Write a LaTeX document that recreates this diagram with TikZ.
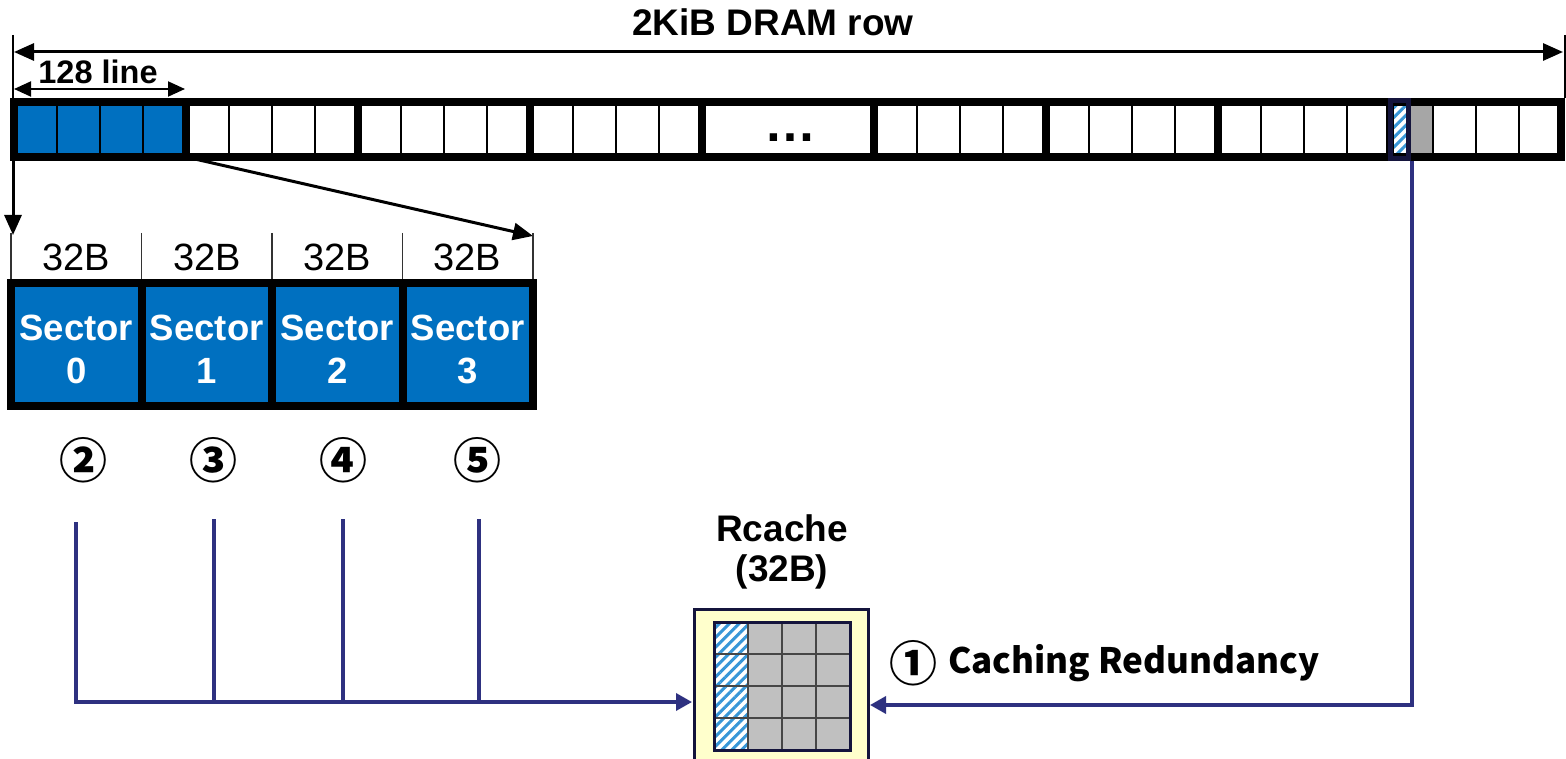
\documentclass[tikz,border=0pt]{standalone}
\usepackage{fontspec}
\setmainfont{Liberation Sans}
\newfontfamily\kr{Noto Sans CJK KR}
\usetikzlibrary{arrows.meta,patterns.meta}
\definecolor{sblue}{RGB}{0,112,192}
\definecolor{navy}{RGB}{46,49,128}
\definecolor{darknavy}{RGB}{20,20,60}
\definecolor{hatchblue}{RGB}{55,150,215}
\definecolor{rgray}{RGB}{192,192,192}
\definecolor{cellgray}{RGB}{166,166,166}
\definecolor{gridgray}{RGB}{70,70,70}
\definecolor{ryellow}{RGB}{255,255,204}
\tikzset{
  rowthick/.style={line width=8pt},
  rowthin/.style={line width=2pt},
  tickline/.style={line width=1.5pt},
  blackarr/.style={line width=3pt,-{Triangle[length=20pt,width=17pt]}},
  dblarr/.style={line width=2pt,{Triangle[length=17pt,width=15pt]}-{Triangle[length=17pt,width=15pt]}},
  navyline/.style={navy, line width=3.5pt},
  navyarr/.style={navyline, -{Triangle[length=16pt,width=17pt]}},
  hatch/.style={pattern={Lines[angle=45,distance=7pt,line width=3pt]}, pattern color=hatchblue},
  bigbold/.style={font=\fontsize{37}{42}\selectfont\bfseries, inner sep=0pt},
  regtext/.style={font=\fontsize{38}{42}\selectfont, inner sep=0pt},
  sectorbox/.style={draw=black, fill=sblue, line width=8pt, minimum width=130.5pt, minimum height=123pt, inner sep=0pt},
  sectortext/.style={text=white, font=\fontsize{36.5}{43}\selectfont\bfseries, align=center, inner sep=0pt},
  circnum/.style={font=\kr\bfseries\fontsize{48}{48}\selectfont, inner sep=0pt},
}
\begin{document}
\begin{tikzpicture}[x=1pt,y=-1pt]
\useasboundingbox (0,0) rectangle (1566,759);

% ---------- title arrow ----------
\node[bigbold] (title) at (773,22) {2KiB DRAM row};
\coordinate (tl) at (13,35); \coordinate (tlb) at (13,98);
\coordinate (tr) at (1565,35); \coordinate (trb) at (1565,98);
\draw[tickline] (tl) -- (tlb);
\draw[tickline] (tr) -- (trb);
\coordinate (ta) at (14,52); \coordinate (tb) at (1563,52);
\draw[line width=3pt,{Triangle[length=20pt,width=17pt]}-{Triangle[length=20pt,width=17pt]}] (ta) -- (tb);

% ---------- 128 line ----------
\node[font=\fontsize{32.5}{36}\selectfont\bfseries, inner sep=0pt] (line128) at (98,72) {128 line};
\coordinate (la) at (14,89); \coordinate (lb) at (185,89);
\draw[dblarr] (la) -- (lb);

% ---------- DRAM row ----------
\fill[sblue] (14,102) rectangle (186,157);
\fill[cellgray] (1410,102) rectangle (1433,157);
\fill[white] (1390,102) rectangle (1408,157);
\fill[hatch] (1390,102) rectangle (1408,157);
\foreach \g in {0,1,2,3,5,6,7,8}{
  \foreach \k in {1,2,3}{
    \draw[rowthin] ({14+172*\g+43*\k},102) -- ({14+172*\g+43*\k},157);
  }
}
\foreach \g in {1,...,8}{
  \draw[rowthick] ({14+172*\g},102) -- ({14+172*\g},157);
}
\draw[rowthick] (14,102) rectangle (1561,157);
\draw[darknavy, line width=5pt] (1390.5,100.5) rectangle (1408,158.5);
\node[font=\fontsize{52}{52}\selectfont\bfseries, inner sep=0pt, anchor=base] (dots) at (790,142) {…};

% ---------- zoom to sectors ----------
\coordinate (rowbl) at (13,161); \coordinate (secl) at (13,235);
\draw[blackarr] (rowbl) -- (secl);
\coordinate (rowbr) at (186,157); \coordinate (secr) at (533,236);
\draw[blackarr] (rowbr) -- (secr);

% ---------- 32B ticks ----------
\foreach \x [count=\i] in {11,141.5,272,402.5,533}{
  \coordinate (tk\i a) at (\x,233);
  \coordinate (tk\i b) at (\x,279);
  \draw[tickline, black!80] (tk\i a) -- (tk\i b);
}
\foreach \x [count=\i from 0] in {76,207,337,467}{
  \node[regtext] (b\i) at (\x,257) {32B};
}

% ---------- sectors ----------
\foreach \x [count=\i from 0] in {76.25,206.75,337.25,467.75}{
  \node[sectorbox] (s\i) at (\x,344.5) {};
  \node[sectortext] (st\i) at (\x,349) {Sector\\\i};
}

% ---------- circled numbers ----------
\node[circnum] (c2) at (83,460) {②};
\node[circnum] (c3) at (213,460) {③};
\node[circnum] (c4) at (343,460) {④};
\node[circnum] (c5) at (477,460) {⑤};

% ---------- Rcache ----------
\node[bigbold, font=\fontsize{37}{42}\selectfont\bfseries] (rct) at (782,528) {Rcache};
\node[bigbold, font=\fontsize{37}{42}\selectfont\bfseries] (rcs) at (782,572) {(32B)};
\node[draw=darknavy, fill=ryellow, line width=3pt, minimum width=174pt, minimum height=153pt, inner sep=0pt] (rc) at (781,685.5) {};
\fill[white] (714,622) rectangle (748,750);
\fill[hatch] (714,622) rectangle (748,750);
\fill[rgray] (748,622) rectangle (850,750);
\foreach \x in {748,782,816}{ \draw[gridgray, line width=2.5pt] (\x,622) -- (\x,750); }
\foreach \y in {654,686,718}{ \draw[gridgray, line width=2.5pt] (714,\y) -- (850,\y); }
\draw[darknavy, line width=3pt] (714,622) rectangle (850,750);

% ---------- navy connectors ----------
\coordinate (v0) at (76,522); \coordinate (h0) at (76,702);
\coordinate (v1) at (214,519); \coordinate (h1) at (214,702);
\coordinate (v2) at (343,519); \coordinate (h2) at (343,702);
\coordinate (v3) at (479,519); \coordinate (h3) at (479,702);
\coordinate (rcl) at (692,702);
\draw[navyline] (v1) -- (h1);
\draw[navyline] (v2) -- (h2);
\draw[navyline] (v3) -- (h3);
\draw[navyarr] (v0) -- (h0) -- (rcl);

\coordinate (hl) at (1412,161); \coordinate (hlc) at (1412,705);
\coordinate (rcr) at (870,705);
\draw[navyarr] (hl) -- (hlc) -- (rcr);

% ---------- caption ----------
\node[circnum] (c1) at (913,663) {①};
\node[font=\kr\bfseries\fontsize{35}{40}\selectfont, inner sep=0pt, anchor=west] (cap) at (948,663) {Caching Redundancy};
\end{tikzpicture}
\end{document}
